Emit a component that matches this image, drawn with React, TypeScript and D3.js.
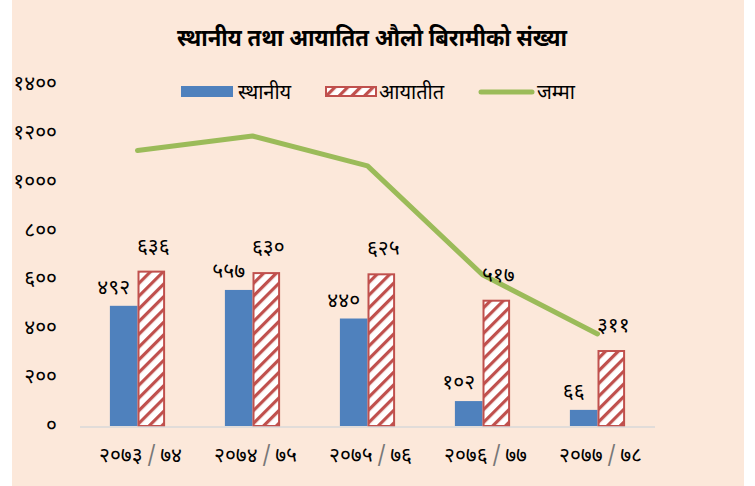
import React from "react";
import * as d3 from "d3";

const categories = ["२०७३/७४", "२०७४/७५", "२०७५/७६", "२०७६/७७", "२०७७/७८"];
const localValues = [492, 557, 440, 102, 66];
const importedValues = [636, 630, 625, 517, 311];
const totalValues = [1128, 1187, 1065, 619, 377];
const yTicks = [0, 200, 400, 600, 800, 1000, 1200, 1400];
const seriesNames = ["स्थानीय", "आयातीत", "जम्मा"];
const title = "स्थानीय तथा आयातित औलो बिरामीको संख्या";

const devDigits = "०१२३४५६७८९";
const toDev = (n: number) => String(n).replace(/[0-9]/g, (d) => devDigits[+d]);

const W = 755;
const H = 486;
const FONT = "'Noto Sans Devanagari', 'Noto Sans', 'DejaVu Sans', sans-serif";
const BLUE = "#4F81BD";
const RED = "#C0504D";
const GREEN = "#9BBB59";

export default function App() {
  const x = d3.scaleBand<string>().domain(categories).range([80, 655]).paddingInner(0.52).paddingOuter(0.26);
  const sub = d3.scaleBand<string>().domain(["l", "i"]).range([0, x.bandwidth()]);
  const y = d3.scaleLinear().domain([0, 1400]).range([426, 84]);
  const line = d3
    .line<number>()
    .x((_, i) => (x(categories[i]) as number) + x.bandwidth() / 2)
    .y((d) => y(d));
  const bw = sub.bandwidth();

  return (
    <svg width={W} height={H} style={{ position: "absolute", left: 0, top: 0 }} fontFamily={FONT}>
      <defs>
        <pattern id="hatch" patternUnits="userSpaceOnUse" width="9" height="9" patternTransform="rotate(45)">
          <rect width="9" height="9" fill="#ffffff" />
          <rect x="0" y="0" width="3.2" height="9" fill={RED} />
        </pattern>
      </defs>
      <rect x={12} y={0} width={732} height={H} fill="#FCE8DA" />
      <text x={372} y={46} textAnchor="middle" fontSize={24} fontWeight="bold" fill="#000" textLength={390} lengthAdjust="spacingAndGlyphs">
        {title}
      </text>

      {/* legend */}
      <rect x={181} y={86} width={52} height={11} fill={BLUE} />
      <text x={238} y={99} fontSize={20} fill="#000">{seriesNames[0]}</text>
      <rect x={326} y={87} width={50} height={9} fill="url(#hatch)" stroke={RED} strokeWidth={2} />
      <text x={379} y={99} fontSize={20} fill="#000">{seriesNames[1]}</text>
      <line x1={481} x2={532} y1={92} y2={92} stroke={GREEN} strokeWidth={5} strokeLinecap="round" />
      <text x={537} y={99} fontSize={20} fill="#000">{seriesNames[2]}</text>

      {/* y ticks */}
      {yTicks.map((t) => (
        <text key={t} x={57} y={y(t) + 6} textAnchor="end" fontSize={21} fill="#000">
          {toDev(t)}
        </text>
      ))}

      {/* bars */}
      {categories.map((c, i) => {
        const x0 = x(c) as number;
        const xl = x0 + (sub("l") as number);
        const xi = x0 + (sub("i") as number);
        return (
          <g key={c}>
            <rect x={xl} y={y(localValues[i])} width={bw} height={y(0) - y(localValues[i])} fill={BLUE} />
            <rect
              x={xi + 1}
              y={y(importedValues[i]) + 1}
              width={bw - 2}
              height={y(0) - y(importedValues[i]) - 1}
              fill="url(#hatch)"
              stroke={RED}
              strokeWidth={2}
            />
          </g>
        );
      })}

      {/* baseline */}
      <line x1={80} x2={655} y1={y(0) + 1} y2={y(0) + 1} stroke="#D9D9D9" strokeWidth={1.5} />

      {/* line */}
      <path d={line(totalValues) || ""} fill="none" stroke={GREEN} strokeWidth={5} strokeLinecap="round" strokeLinejoin="round" />

      {/* data labels */}
      {categories.map((c, i) => {
        const x0 = x(c) as number;
        const xl = x0 + (sub("l") as number);
        const xi = x0 + (sub("i") as number);
        return (
          <g key={c}>
            <text x={xl + bw / 2 - 10} y={y(localValues[i]) - 12} textAnchor="middle" fontSize={21} fill="#000">
              {toDev(localValues[i])}
            </text>
            <text x={xi + bw / 2 + 2} y={y(importedValues[i]) - 18} textAnchor="middle" fontSize={21} fill="#000">
              {toDev(importedValues[i])}
            </text>
          </g>
        );
      })}

      {/* categories */}
      {categories.map((c) => {
        const [a, b] = c.split("/");
        return (
          <text key={c} x={(x(c) as number) + x.bandwidth() / 2 + 3} y={462} textAnchor="middle" fontSize={21} fill="#000">
            {a}
            <tspan fill="#777">{"\u2009/\u2009"}</tspan>
            {b}
          </text>
        );
      })}
    </svg>
  );
}
